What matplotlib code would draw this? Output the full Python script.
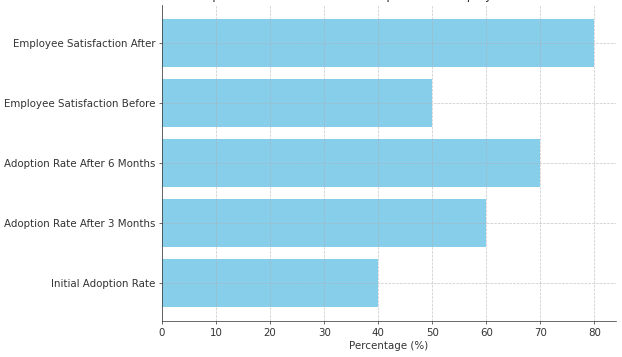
import matplotlib
matplotlib.use("Agg")
import matplotlib.pyplot as plt

categories = [
    "Initial Adoption Rate",
    "Adoption Rate After 3 Months",
    "Adoption Rate After 6 Months",
    "Employee Satisfaction Before",
    "Employee Satisfaction After",
]
values = [40, 60, 70, 50, 80]

plt.rcParams["font.size"] = 11.6
plt.rcParams["text.color"] = "#333333"
plt.rcParams["axes.labelcolor"] = "#333333"
plt.rcParams["xtick.color"] = "#333333"
plt.rcParams["ytick.color"] = "#333333"
plt.rcParams["axes.edgecolor"] = "#333333"

fig = plt.figure(figsize=(622 / 64, 357 / 64), dpi=64)
ax = fig.add_axes([0.2605, 0.0997, 0.7299, 0.8873])

ax.barh(categories, values, color="skyblue")
ax.set_xlabel("Percentage (%)")
ax.set_title("Impact of New Software on Adoption and Employee Satisfaction", fontsize=13.5)
ax.grid(True, linestyle="--", alpha=0.7)
ax.spines["top"].set_visible(False)
ax.spines["right"].set_visible(False)

fig.savefig("out.png", dpi=64)
